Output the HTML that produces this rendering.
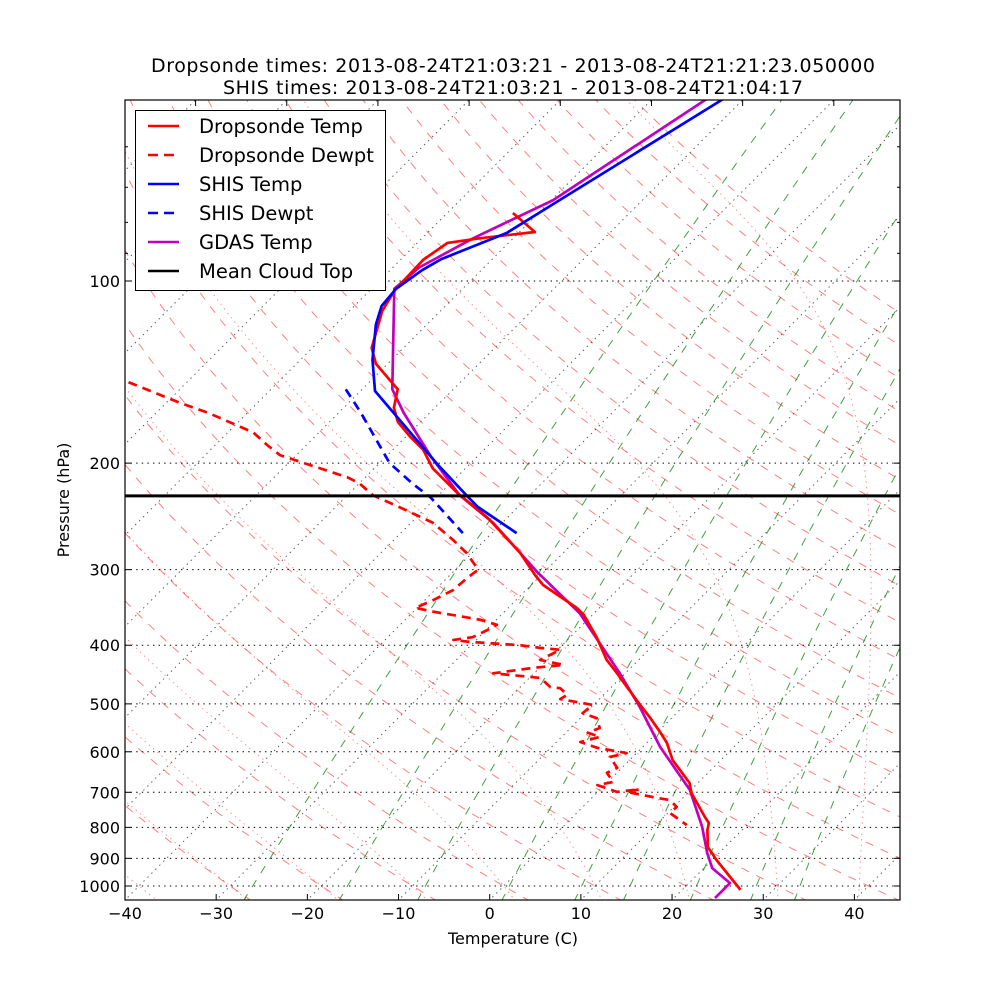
<!DOCTYPE html>
<html><head><meta charset="utf-8"><style>
html,body{margin:0;padding:0;background:#fff}
svg{display:block;font-family:"DejaVu Sans","Liberation Sans",sans-serif}
</style></head><body>
<svg id="chart" width="1000" height="1000" viewBox="0 0 1000 1000" xmlns="http://www.w3.org/2000/svg">
<defs><clipPath id="clip"><rect x="125" y="100" width="775" height="800"/></clipPath></defs>
<rect x="0" y="0" width="1000" height="1000" fill="#fff"/>
<text x="513" y="72" font-size="19" text-anchor="middle" textLength="724">Dropsonde times: 2013-08-24T21:03:21 - 2013-08-24T21:21:23.050000</text>
<text x="513" y="94" font-size="19" text-anchor="middle" textLength="580">SHIS times: 2013-08-24T21:03:21 - 2013-08-24T21:04:17</text>
<g id="bg" clip-path="url(#clip)"></g>
<g id="grid" clip-path="url(#clip)"></g>
<g id="data" clip-path="url(#clip)"></g>
<rect x="125" y="100" width="775" height="800" fill="none" stroke="#000" stroke-width="1.2"/>
<g id="ticks"></g>
<text x="513" y="944" font-size="16" text-anchor="middle">Temperature (C)</text>
<text transform="translate(69,500) rotate(-90)" font-size="16" text-anchor="middle">Pressure (hPa)</text>
<g>
<rect x="135.5" y="110.5" width="250" height="180" fill="#fff" stroke="#000" stroke-width="1"/>
<g><line x1="148" y1="126" x2="179" y2="126" stroke="#f00" stroke-width="2.6"/><text x="199" y="133" font-size="19.5">Dropsonde Temp</text></g>
<g><line x1="148" y1="155" x2="179" y2="155" stroke="#f00" stroke-width="2.6" stroke-dasharray="10,6"/><text x="199" y="162" font-size="19.5">Dropsonde Dewpt</text></g>
<g><line x1="148" y1="184" x2="179" y2="184" stroke="#00f" stroke-width="2.6"/><text x="199" y="191" font-size="19.5">SHIS Temp</text></g>
<g><line x1="148" y1="213" x2="179" y2="213" stroke="#00f" stroke-width="2.6" stroke-dasharray="10,6"/><text x="199" y="220" font-size="19.5">SHIS Dewpt</text></g>
<g><line x1="148" y1="242" x2="179" y2="242" stroke="#bf00bf" stroke-width="2.6"/><text x="199" y="249" font-size="19.5">GDAS Temp</text></g>
<g><line x1="148" y1="271" x2="179" y2="271" stroke="#000" stroke-width="2.6"/><text x="199" y="278" font-size="19.5">Mean Cloud Top</text></g>
</g>
</svg>
<script>
// ---- data ----
const dropP = [1015,906,862,808,787,769,702,676,619,580,557,526,498,469,445,423,388,356,347,318,306,281,246,224,204,190,181,171,162,151,137,129,120.5,112,103.5,92.3,86.5,85,83,77.2];
const dropT = [26.4,20.5,18.1,16.2,15.6,14.5,10.4,9.1,4.7,2.2,0.3,-2.5,-5.3,-8.3,-10.9,-13.5,-17.1,-21.0,-22.5,-28.7,-30.7,-34.8,-42.2,-48.2,-53.6,-56.7,-59.5,-62.5,-64.5,-66.1,-71.3,-73.5,-74.9,-76.4,-77.3,-77.5,-76.7,-73.7,-68.3,-72.8];
const dewP = [147,159,165,178,187,194,201,211,216,226,237,251,268,282,300,310,324,337,347,352,363,370,378,388,392,395,400,404,407,423,431,436,445,453,469,471,483,491,502,518,528,548,558,567,578,591,603,612,638,650,673,681,699,692,699,713,721,740,757,793];
const dewT = [-96.4,-88.5,-84.4,-77.2,-74.2,-71.8,-67.7,-62.0,-60.0,-57.2,-52.8,-47.6,-43.5,-40.5,-37.5,-37.8,-38.0,-39.1,-40.2,-37.8,-31.8,-29.4,-29.9,-30.7,-32.5,-30.5,-24.6,-22.1,-19.7,-20.8,-17.7,-20.7,-24.5,-18.8,-16.7,-15.5,-14.0,-14.3,-10.1,-10.3,-8.2,-6.8,-7.6,-5.8,-7.4,-4.9,-1.1,-2.5,-0.5,-1.1,0.6,-0.8,2.1,4.3,3.2,6.6,8.8,10.3,10.2,13.4];
const shisP = [261,236,227,201,152,135,118,110,103,96,92,83.3,73.5,50.2,45];
const shisT = [-37.3,-44.5,-46.7,-53.5,-68.4,-72.1,-75.6,-77.0,-77.3,-76.5,-75.6,-71.3,-69.1,-62.3,-60.5];
const shisDP = [151,165,200,217,228,261];
const shisDT = [-71.8,-67.6,-58.9,-53.9,-50.6,-43.2];
const gdasP = [1047,989,934,882,799,694,589,506,445,354,303,251,226,195,165,151,103,95,85,73.5,50.2,45];
const gdasT = [24.5,24.5,20.9,18.7,15.3,9.9,1.9,-4.7,-10.6,-21.6,-30.7,-41,-47.7,-55.1,-62.9,-66.7,-77.5,-77.1,-74.4,-69.8,-64.1,-62.3];
const cloudTopP = [226.6];
const xTicks = [-40,-30,-20,-10,0,10,20,30,40];
const yTicks = [100,200,300,400,500,600,700,800,900,1000];
const yMinor = [60,70,80,90];
const topTicks = [-120,-110,-100,-90,-80,-70,-60,-50];
const mixW = [0.0004,0.001,0.002,0.004,0.007,0.01,0.016,0.024,0.032];
const dryTheta = [-30,-20,-10,0,10,20,30,40,50,60,70,80,90,100,110,120,130,140,150,160,170,180,190,200];
const moistT0 = [-40,-30,-20,-10,0,10,20,30,39];
const isoT = [-130,-120,-110,-100,-90,-80,-70,-60,-50,-40,-30,-20,-10,0,10,20,30,40];

// ---- axes ----
const NS='http://www.w3.org/2000/svg';
function yP(p){return 281+605*Math.log10(p/100);}
function xT(T){return 125+(T+40)*775/85;}
function sx(T,p){return xT(T)+(900-yP(p));}
function mk(tag,attrs,parent){const e=document.createElementNS(NS,tag);for(const k in attrs)e.setAttribute(k,attrs[k]);parent.appendChild(e);return e;}
function pathOf(ps,ts){return ps.map((p,i)=>(i?'L':'M')+sx(ts[i],p).toFixed(1)+','+yP(p).toFixed(1)).join('');}
const bg=document.getElementById('bg'),grid=document.getElementById('grid'),data=document.getElementById('data'),ticks=document.getElementById('ticks');
const pLevels=[];for(let p=1060;p>=44;p-=4)pLevels.push(p);

isoT.forEach(T=>{
  const l=mk('line',{x1:sx(T,1060),y1:yP(1060),x2:sx(T,44),y2:yP(44),stroke:'#000','stroke-width':1,'stroke-dasharray':'1.4,4.2',opacity:0.65},bg);
  
  
});
dryTheta.forEach(th=>{
  const ts=pLevels.map(p=>(th+273.15)*Math.pow(p/1000,0.2857)-273.15);
  const e=mk('path',{d:pathOf(pLevels,ts),fill:'none',stroke:'#ff0000','stroke-opacity':0.5,'stroke-width':1,'stroke-dasharray':'8.3,8.3'},bg);
  
  
});
function es(T){return 6.112*Math.exp(17.67*T/(T+243.5));}
function dTdp(p,T){const Tk=T+273.15,rs=0.622*es(T)/(p-es(T));return (287.04*Tk+2.501e6*rs)/(1005.7+2.501e6*2.501e6*rs*0.622/(287.04*Tk*Tk))/p;}
function moist(t0){
  const up=[[1000,t0]];let p=1000,T=t0,h=-2;
  while(p>44){const k1=dTdp(p,T),k2=dTdp(p+h/2,T+h/2*k1);T+=h*k2;p+=h;up.push([p,T]);}
  p=1000;T=t0;h=2;const dn=[];
  while(p<1062){const k1=dTdp(p,T),k2=dTdp(p+h/2,T+h/2*k1);T+=h*k2;p+=h;dn.push([p,T]);}
  return dn.reverse().concat(up);
}
moistT0.forEach(t0=>{
  const pts=moist(t0);
  const e=mk('path',{d:pathOf(pts.map(a=>a[0]),pts.map(a=>a[1])),fill:'none',stroke:'#ff0000','stroke-opacity':0.45,'stroke-width':1,'stroke-dasharray':'1.4,4.2'},bg);
  
  
});
mixW.forEach(w=>{
  const ts=pLevels.map(p=>{const e=p*w/(0.622+w),a=Math.log(e/6.112);return 243.5*a/(17.67-a);});
  const e=mk('path',{d:pathOf(pLevels,ts),fill:'none',stroke:'#008000','stroke-opacity':0.75,'stroke-width':1,'stroke-dasharray':'8.3,8.3'},bg);
  
  
});
yTicks.forEach(p=>{
  const l=mk('line',{x1:125,x2:900,y1:yP(p),y2:yP(p),stroke:'#000','stroke-width':1,'stroke-dasharray':'1.4,4.2'},grid);
  
  
});
function series(ps,ts,color,dash,name){
  const a={d:pathOf(ps,ts),fill:'none',stroke:color,'stroke-width':2.7,'stroke-linejoin':'round'};
  if(dash)a['stroke-dasharray']='9,6';
  const e=mk('path',a,data);
  
  
}
series(gdasP,gdasT,'#bf00bf',false,'gdas-temp-line');
series(dropP,dropT,'#ff0000',false,'dropsonde-temp-line');
series(dewP,dewT,'#ff0000',true,'dropsonde-dewpt-line');
series(shisP,shisT,'#0000ff',false,'shis-temp-line');
series(shisDP,shisDT,'#0000ff',true,'shis-dewpt-line');
cloudTopP.forEach(p=>{
  const l=mk('line',{x1:125,x2:900,y1:yP(p),y2:yP(p),stroke:'#000','stroke-width':3},data);
  
  
});
xTicks.forEach(T=>{
  const x=xT(T);
  mk('line',{x1:x,x2:x,y1:900,y2:894,stroke:'#000','stroke-width':1},ticks);
  const t=mk('text',{x:x,y:919,'font-size':16,'text-anchor':'middle'},ticks);
  t.textContent=(T<0?'\u2212':'')+Math.abs(T);
  
  
});
topTicks.forEach(T=>{const x=xT(T)+800;mk('line',{x1:x,x2:x,y1:100,y2:106,stroke:'#000','stroke-width':1},ticks);});
yTicks.forEach(p=>{
  const y=yP(p);
  mk('line',{x1:125,x2:131,y1:y,y2:y,stroke:'#000','stroke-width':1},ticks);
  mk('line',{x1:900,x2:894,y1:y,y2:y,stroke:'#000','stroke-width':1},ticks);
  const t=mk('text',{x:120,y:y+6,'font-size':16,'text-anchor':'end'},ticks);
  t.textContent=p;
  
  
});
yMinor.forEach(p=>{const y=yP(p);mk('line',{x1:125,x2:128,y1:y,y2:y,stroke:'#000','stroke-width':1},ticks);mk('line',{x1:900,x2:897,y1:y,y2:y,stroke:'#000','stroke-width':1},ticks);});
</script>
</body></html>
